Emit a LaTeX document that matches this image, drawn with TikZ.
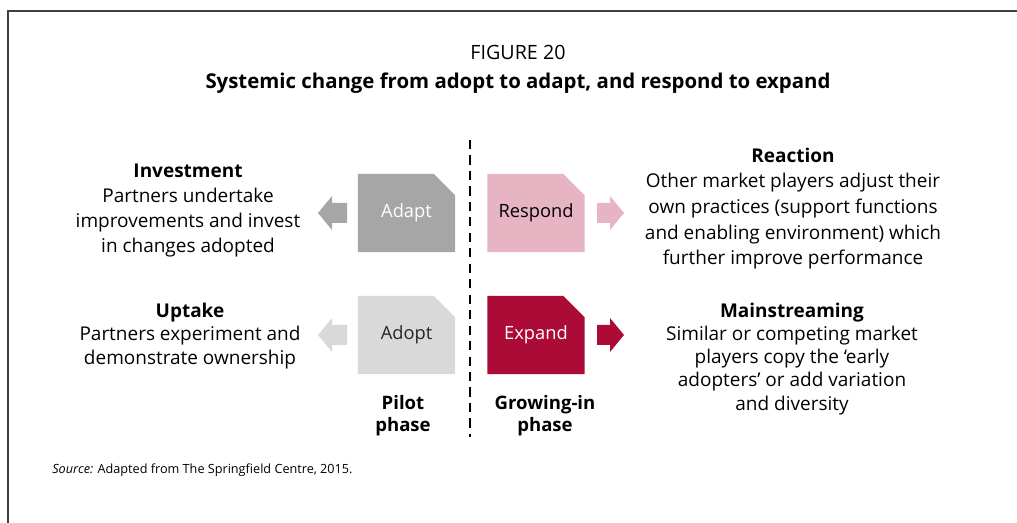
\documentclass[tikz,border=0pt]{standalone}
\usepackage{fontspec}
\setmainfont{Open Sans}
\usetikzlibrary{shapes.misc}

\definecolor{adaptgrey}{HTML}{A6A6A6}
\definecolor{adoptgrey}{HTML}{D9D9D9}
\definecolor{respondpink}{HTML}{E7B4C3}
\definecolor{expandred}{HTML}{AC0B37}
\definecolor{framegrey}{HTML}{404040}

\tikzset{
  phasebox/.style={chamfered rectangle, chamfered rectangle corners=north east,
    chamfered rectangle xsep=0.3cm, chamfered rectangle ysep=0.3cm,
    minimum width=2.425cm, minimum height=1.95cm, inner sep=0pt,
    font=\fontsize{13}{15}\selectfont},
  blurb/.style={align=center, inner sep=0pt, font=\fontsize{13.5}{17.8}\selectfont},
  phaselabel/.style={align=center, inner sep=0pt, font=\fontsize{13.2}{15.6}\selectfont\bfseries}
}

\begin{document}
\begin{tikzpicture}[x=0.025cm,y=-0.025cm]
    \useasboundingbox (0,0) rectangle (1017,523);
    \draw[framegrey, line width=1.5pt] (8,523) -- (8,11) -- (1017,11);

    \node (fig) at (518,52) {\fontsize{14}{16}\selectfont FIGURE 20};
    \node[font=\fontsize{14.5}{17}\selectfont\bfseries] (title) at (518,83)
      {Systemic change from adopt to adapt, and respond to expand};

    \draw[black, line width=0.9pt, dash pattern=on 6.5pt off 4.5pt] (470,140) -- (470,437);

    \node[phasebox, fill=adaptgrey, text=white] (adapt) at (406.5,213) {Adapt};
    \node[phasebox, fill=respondpink, text=black] (respond) at (536,213) {Respond};
    \node[phasebox, fill=adoptgrey, text=black!85] (adopt) at (406.5,335) {Adopt};
    \node[phasebox, fill=expandred, text=white] (expand) at (536,335) {Expand};

    \foreach \yc/\col in {213/adaptgrey, 335/adoptgrey}{
        \fill[\col] (347,\yc-10) -- (332,\yc-10) -- (332,\yc-17) -- (318,\yc)
          -- (332,\yc+17) -- (332,\yc+10) -- (347,\yc+10) -- cycle;
      }
    \foreach \yc/\col in {213/respondpink, 335/expandred}{
        \fill[\col] (597,\yc-10) -- (610,\yc-10) -- (610,\yc-17) -- (624,\yc)
          -- (610,\yc+17) -- (610,\yc+10) -- (597,\yc+10) -- cycle;
      }

    \node[blurb] (invest) at (188,210.5)
      {\textbf{Investment}\\Partners undertake\\improvements and invest\\in changes adopted};
    \node[blurb, font=\fontsize{13.5}{17}\selectfont] (uptake) at (190,336)
      {\textbf{Uptake}\\Partners experiment and\\demonstrate ownership};
    \node[blurb, font=\fontsize{13.5}{18.2}\selectfont] (react) at (793,208.5)
      {\textbf{Reaction}\\Other market players adjust their\\own practices (support functions\\and enabling environment) which\\further improve performance};
    \node[blurb, font=\fontsize{13.5}{16.4}\selectfont] (mainstream) at (792,359)
      {\textbf{Mainstreaming}\\Similar or competing market\\players copy the ‘early\\adopters’ or add variation\\and diversity};

    \node[phaselabel] (pilot) at (403,416) {Pilot\\phase};
    \node[phaselabel] (growing) at (545,416) {Growing-in\\phase};

    \node[anchor=west, inner sep=0pt, font=\fontsize{9}{12}\selectfont] (source) at (52,470)
      {\textit{Source:} Adapted from The Springfield Centre, 2015.};
  \end{tikzpicture}
\end{document}
